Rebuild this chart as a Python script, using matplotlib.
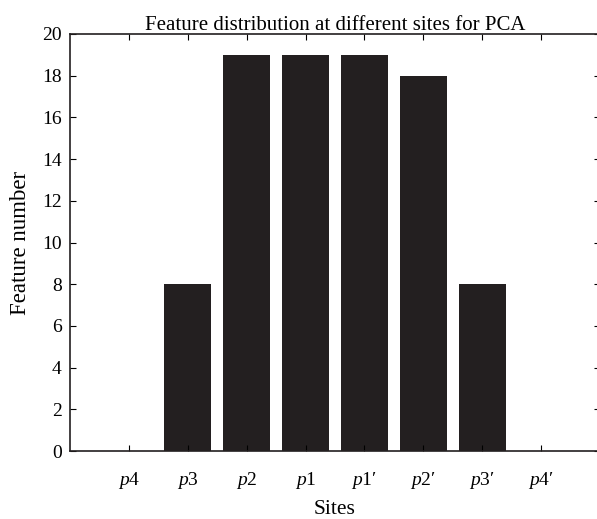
import matplotlib
matplotlib.use("Agg")
import matplotlib.pyplot as plt
import numpy as np

sites = ["$p$4", "$p$3", "$p$2", "$p$1", "$p$1\u2032", "$p$2\u2032", "$p$3\u2032", "$p$4\u2032"]
counts = [0, 8, 19, 19, 19, 18, 8, 0]

plt.rcParams["font.family"] = "Liberation Serif"
plt.rcParams["mathtext.fontset"] = "custom"
plt.rcParams["mathtext.rm"] = "Liberation Serif"
plt.rcParams["mathtext.it"] = "Liberation Serif:italic"

fig = plt.figure(figsize=(5.97, 5.19), dpi=100)
ax = fig.add_axes([70 / 597, 1 - 451 / 519, 530 / 597, 417 / 519])

x = np.arange(1, len(counts) + 1)
ax.bar(x, counts, width=0.8, color="#231f20")

ax.set_xlim(0, 9)
ax.set_ylim(0, 20)
ax.set_xticks(x)
ax.set_xticklabels(sites, fontsize=15)
ax.set_yticks(np.arange(0, 21, 2))
ax.tick_params(direction="in", top=True, right=True, length=4, width=0.8,
               labelsize=14, pad=6)
ax.tick_params(axis="x", pad=14)
for s in ax.spines.values():
    s.set_linewidth(1.2)
    s.set_color("#231f20")

ax.set_title("Feature distribution at different sites for PCA", fontsize=15, pad=3)
ax.set_xlabel("Sites", fontsize=15.5, labelpad=6)
ax.set_ylabel("Feature number", fontsize=16.5, labelpad=8)

fig.savefig("out.png", dpi=100)
